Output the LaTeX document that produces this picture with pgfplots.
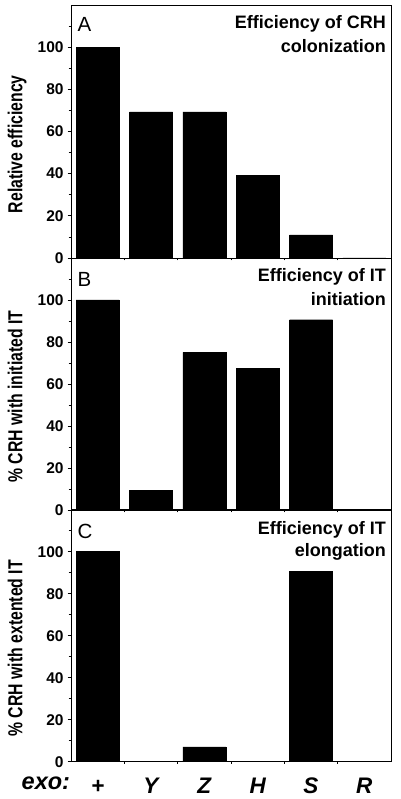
\documentclass[border=0pt]{standalone}
\usepackage{pgfplots}
\pgfplotsset{compat=1.18}
\usepackage{fontspec}
\setmainfont{Liberation Sans}
\usepackage{graphicx}

\pgfplotsset{
  panel/.style={
    scale only axis, width=320pt, height=252pt,
    anchor=south west,
    xmin=-0.5, xmax=5.5, ymin=0, ymax=120,
    ybar, bar width=43pt,
    ytick={0,20,...,100}, minor ytick={10,30,...,110},
    xtick={0,...,5}, minor xtick={0.5,1.5,...,4.5},
    major x tick style={draw=none},
    xtick pos=bottom, ytick pos=left,
    tick align=outside,
    major tick length=3.3pt, minor tick length=2.3pt,
    axis line style={line width=0.8pt},
    every tick/.style={black, line width=0.7pt},
    clip=false,
    /pgf/number format/assume math mode=true,
    yticklabel style={font=\bfseries\fontsize{15.5}{15.5}\selectfont, inner sep=0pt, anchor=east, xshift=-4pt},
    xticklabel style={font=\bfseries\itshape\fontsize{22.5}{22.5}\selectfont, inner sep=0pt, anchor=base, yshift=-28pt},
    ylabel style={at={(axis description cs:-0.1516,0.45)}, anchor=base, font=\bfseries\fontsize{15.8}{15.8}\selectfont},
  },
  bars/.style={fill=black, draw=black},
}
\tikzset{
  paneltitle/.style={anchor=base east, inner sep=0pt, font=\bfseries\fontsize{18}{18}\selectfont},
  panelletter/.style={anchor=base west, inner sep=0pt, font=\fontsize{20.5}{20.5}\selectfont},
}

\begin{document}
\begin{tikzpicture}
% Panel A
\begin{axis}[panel, at={(71pt,541pt)}, height=253pt, xticklabels={},
  ylabel={\scalebox{1}[1.28]{Relative efficiency}}]
\addplot[bars] coordinates {(0,100) (1,69.3) (2,69.3) (3,39.3) (4,11) (5,0)};
\node[panelletter] at (rel axis cs:0,1) [xshift=6.5pt, yshift=-26.5pt] {A};
\node[paneltitle] at (rel axis cs:1,1) [xshift=-5pt, yshift=-23.5pt] {Efficiency of CRH};
\node[paneltitle] at (rel axis cs:1,1) [xshift=-5pt, yshift=-47.3pt] {colonization};
\end{axis}
% Panel B
\begin{axis}[panel, at={(71pt,289pt)}, xticklabels={},
  ylabel={\scalebox{1}[1.28]{\% CRH with initiated IT}}]
\addplot[bars] coordinates {(0,100) (1,9.5) (2,75) (3,67.5) (4,90.6) (5,0)};
\node[panelletter] at (rel axis cs:0,1) [xshift=6.5pt, yshift=-28.5pt] {B};
\node[paneltitle] at (rel axis cs:1,1) [xshift=-5pt, yshift=-23.5pt] {Efficiency of IT};
\node[paneltitle] at (rel axis cs:1,1) [xshift=-5pt, yshift=-47.3pt] {initiation};
\end{axis}
% Panel C
\begin{axis}[panel, at={(71pt,37.3pt)},
  xticklabels={+, Y, Z, H, S, R},
  ylabel={\scalebox{1}[1.28]{\% CRH with extented IT}}]
\addplot[bars] coordinates {(0,100) (1,0) (2,7) (3,0) (4,90.6) (5,0)};
\node[panelletter] at (rel axis cs:0,1) [xshift=6.5pt, yshift=-29pt] {C};
\node[paneltitle] at (rel axis cs:1,1) [xshift=-5pt, yshift=-24.5pt] {Efficiency of IT};
\node[paneltitle] at (rel axis cs:1,1) [xshift=-5pt, yshift=-46.5pt] {elongation};
\end{axis}
\node[anchor=base west, inner sep=0pt, font=\bfseries\itshape\fontsize{23.5}{23.5}\selectfont] at (21.5pt,9.5pt) {exo:};
\pgfresetboundingbox
\path[use as bounding box] (0,0) rectangle (400pt,799pt);
\end{tikzpicture}
\end{document}
